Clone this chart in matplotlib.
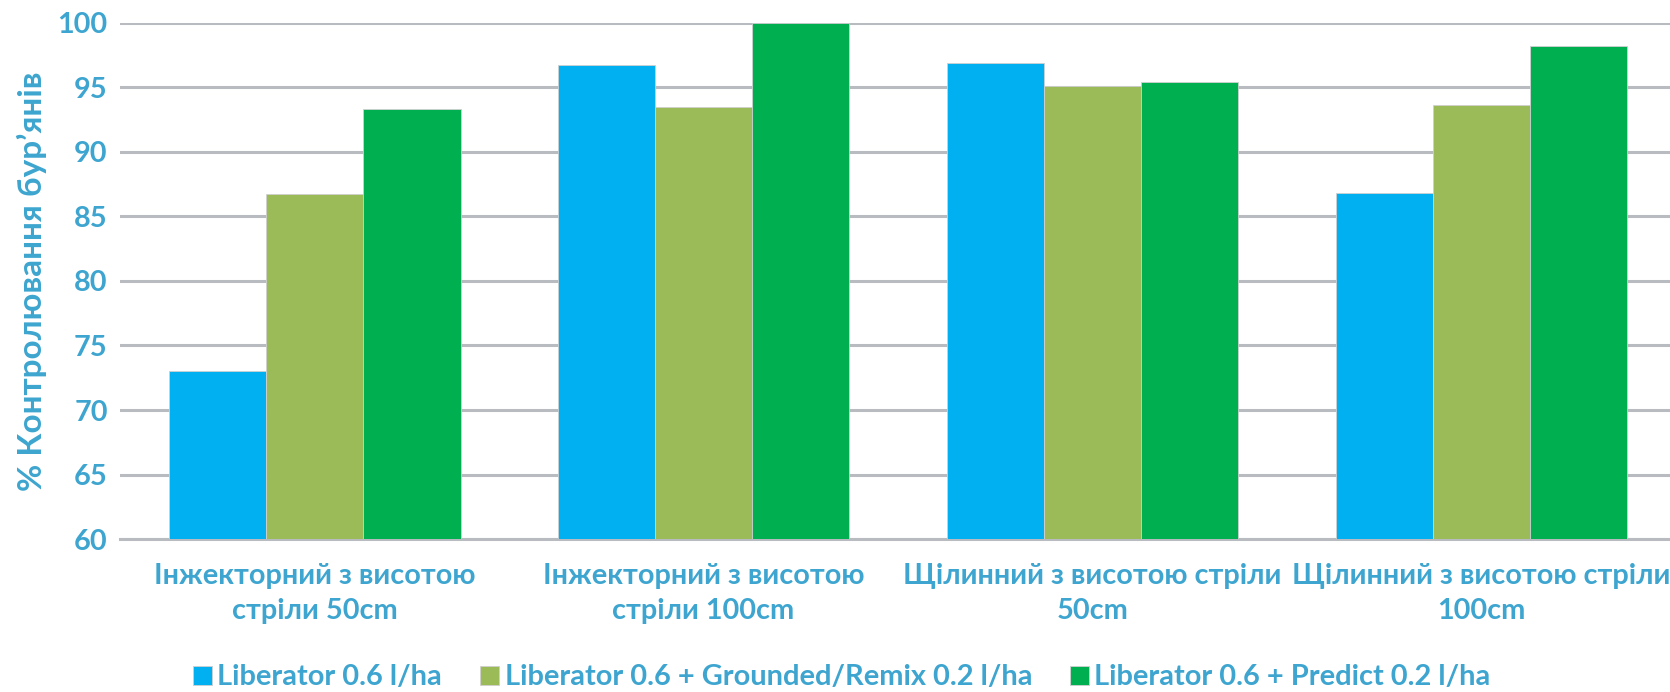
import matplotlib
matplotlib.use("Agg")
import matplotlib.pyplot as plt
import numpy as np

# ---------------- data ----------------
categories = [
    "Інжекторний з висотою\nстріли 50cm",
    "Інжекторний з висотою\nстріли 100cm",
    "Щілинний з висотою стріли\n50cm",
    "Щілинний з висотою стріли\n100cm",
]
series_names = [
    "Liberator 0.6 l/ha",
    "Liberator 0.6 + Grounded/Remix 0.2 l/ha",
    "Liberator 0.6 + Predict 0.2 l/ha",
]
liberator = [73.0, 96.7, 96.9, 86.8]
grounded = [86.7, 93.5, 95.1, 93.6]
predict = [93.3, 100.0, 95.4, 98.2]

# ---------------- style ----------------
COLORS = ["#00b0f0", "#9bbb59", "#00b050"]
TEXT_COLOR = "#3da5cf"
GRID_COLOR = "#b8bcc0"
plt.rcParams["font.family"] = ["Lato", "DejaVu Sans"]
plt.rcParams["font.weight"] = "bold"
plt.rcParams["axes.labelweight"] = "bold"

fig = plt.figure(figsize=(16.7, 6.92), dpi=100)
ax = fig.add_axes([0.072, 0.221, 0.928, 0.746])

x = np.arange(len(categories))
w = 0.25
for i, (vals, name) in enumerate(zip([liberator, grounded, predict], series_names)):
    ax.bar(x + (i - 1) * w, vals, width=w, color=COLORS[i], label=name,
           edgecolor="#d0d0d0", linewidth=0.6, zorder=3)

ax.set_ylim(60, 100)
ax.set_yticks(range(60, 101, 5))
ax.set_xlim(-0.5, 3.485)
ax.set_xticks(x)
ax.set_xticklabels(categories, linespacing=1.45)

ax.yaxis.grid(True, color=GRID_COLOR, linewidth=2.2, zorder=0)
for s in ["top", "right", "left"]:
    ax.spines[s].set_visible(False)
ax.spines["bottom"].set_color(GRID_COLOR)
ax.spines["bottom"].set_linewidth(2.2)
ax.tick_params(axis="both", length=0, colors=TEXT_COLOR, labelsize=20.8)
ax.tick_params(axis="y", pad=9)
ax.tick_params(axis="x", pad=17)

ax.set_ylabel("% Контролювання бур’янів", color=TEXT_COLOR, fontsize=24, labelpad=8)

fig.legend(loc="center", bbox_to_anchor=(0.504, 0.021), ncol=3, frameon=False,
           fontsize=20.9, labelcolor=TEXT_COLOR, handlelength=0.65, handleheight=0.65,
           handletextpad=0.2, columnspacing=1.3)

fig.savefig("out.png", dpi=100)
